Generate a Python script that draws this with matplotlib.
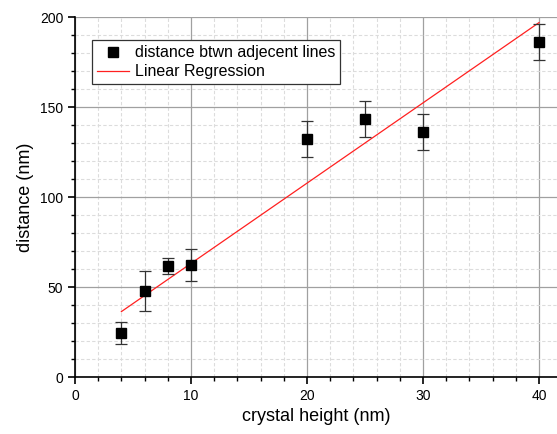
import matplotlib.pyplot as plt
from matplotlib.ticker import MultipleLocator

plt.rcParams['font.family'] = ['Liberation Sans', 'DejaVu Sans']

# crystal height (nm) vs. distance between adjacent lines (nm)
height = [4, 6, 8, 10, 20, 25, 30, 40]
distance = [24.4, 47.8, 61.7, 62.2, 132.0, 143.3, 136.3, 186.0]
error = [6.0, 11.0, 4.5, 9.0, 10.0, 10.0, 10.0, 10.0]

# linear regression
fit_slope = 4.46
fit_intercept = 18.5
fit_x = [4, 40]

fig = plt.figure(figsize=(5.57, 4.34), dpi=100)
ax = fig.add_axes([0.1346, 0.1313, 0.8654, 0.8295])

fit_y = [fit_slope * x + fit_intercept for x in fit_x]
fit_line, = ax.plot(fit_x, fit_y, color="#ff2020", lw=0.9, zorder=3)
eb = ax.errorbar(height, distance, yerr=error, fmt="s", color="black", ms=7,
                 ecolor="#333333", elinewidth=0.9, capsize=4, capthick=0.9,
                 zorder=4)

ax.set_xlim(0, 41.55)
ax.set_ylim(0, 200)
ax.xaxis.set_major_locator(MultipleLocator(10))
ax.xaxis.set_minor_locator(MultipleLocator(2))
ax.yaxis.set_major_locator(MultipleLocator(50))
ax.yaxis.set_minor_locator(MultipleLocator(10))

ax.grid(which="major", color="#a0a0a0", lw=0.9, ls="-")
ax.grid(which="minor", color="#dcdcdc", lw=0.8, ls=(0, (3, 2)))
ax.set_axisbelow(True)

for s in ["top", "right"]:
    ax.spines[s].set_visible(False)
ax.spines["left"].set_linewidth(1.2)
ax.spines["bottom"].set_linewidth(1.2)
ax.tick_params(which="major", direction="out", length=5, width=1.2, labelsize=10)
ax.tick_params(which="minor", direction="out", length=3, width=1)

ax.set_xlabel("crystal height (nm)", fontsize=13)
ax.set_ylabel("distance (nm)", fontsize=13)

leg = ax.legend([eb[0], fit_line],
                ["distance btwn adjecent lines", "Linear Regression"],
                loc="upper left", bbox_to_anchor=(0.035, 0.935), fontsize=11.5,
                frameon=True, fancybox=False, edgecolor="#333333", framealpha=1,
                borderpad=0.3, labelspacing=0.25, handlelength=2.0,
                handletextpad=0.4, borderaxespad=0)
leg.get_frame().set_linewidth(0.9)

fig.savefig("out.png", dpi=100)
